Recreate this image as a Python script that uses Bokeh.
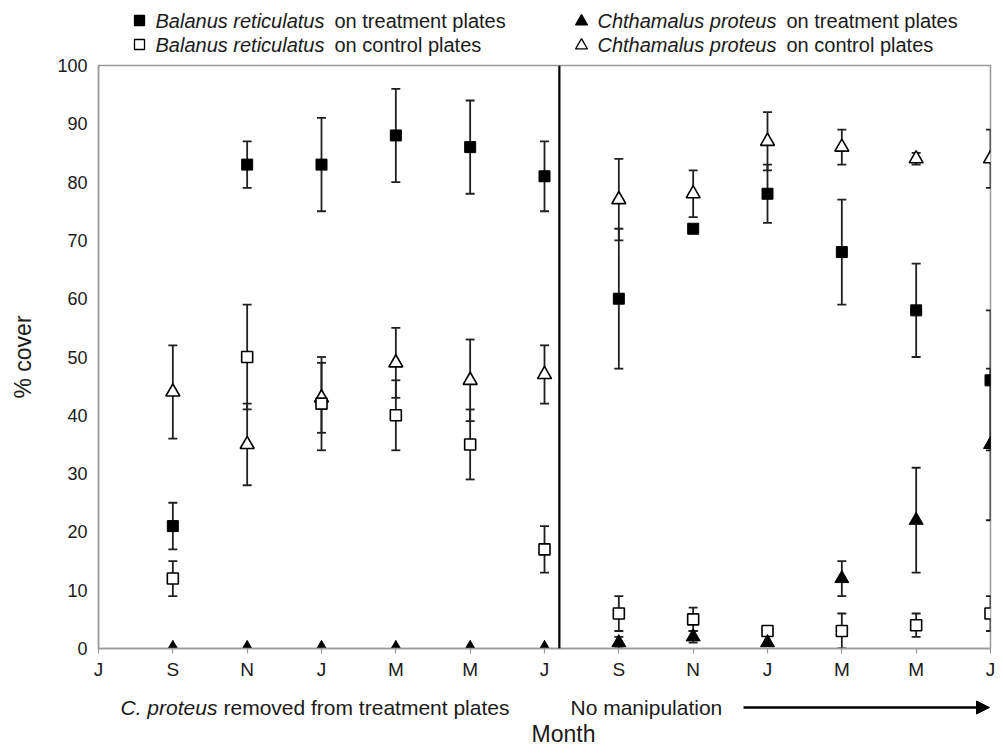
from bokeh.plotting import figure
from bokeh.models import Range1d, FixedTicker, Span, Arrow, NormalHead
from bokeh.layouts import column
from bokeh.core.properties import value
from bokeh.embed import file_html
from bokeh.resources import INLINE

nan = float("nan")

# ---------------- data ----------------
months = ["J", "S", "N", "J", "M", "M", "J", "S", "N", "J", "M", "M", "J"]

br_treat    = [nan, 21, 83, 83, 88, 86, 81, 60, 72, 78, 68, 58, 46]
br_treat_lo = [nan, 17, 79, 75, 80, 78, 75, 48, nan, 73, 59, 50, 34]
br_treat_hi = [nan, 25, 87, 91, 96, 94, 87, 72, nan, 83, 77, 66, 58]

br_ctrl    = [nan, 12, 50, 42, 40, 35, 17, 6, 5, 3, 3, 4, 6]
br_ctrl_lo = [nan, 9, 41, 34, 34, 29, 13, 3, 3, nan, 0, 2, 3]
br_ctrl_hi = [nan, 15, 59, 50, 46, 41, 21, 9, 7, nan, 6, 6, 9]

cp_treat    = [nan, 0, 0, 0, 0, 0, 0, 1, 2, 1, 12, 22, 35]
cp_treat_lo = [nan, nan, nan, nan, nan, nan, nan, 0, 1, nan, 9, 13, 22]
cp_treat_hi = [nan, nan, nan, nan, nan, nan, nan, 2, 3, nan, 15, 31, 48]

cp_ctrl    = [nan, 44, 35, 43, 49, 46, 47, 77, 78, 87, 86, 84, 84]
cp_ctrl_lo = [nan, 36, 28, 37, 43, 39, 42, 70, 74, 82, 83, 83, 79]
cp_ctrl_hi = [nan, 52, 42, 49, 55, 53, 52, 84, 82, 92, 89, 85, 89]

y_ticks = [0, 10, 20, 30, 40, 50, 60, 70, 80, 90, 100]
divider_at = 6.2  # end of the removal period

legend_species = ["Balanus reticulatus", "Balanus reticulatus",
                  "Chthamalus proteus", "Chthamalus proteus"]
legend_rest = ["on treatment plates", "on control plates",
               "on treatment plates", "on control plates"]

x = list(range(len(months)))

FONT = "Liberation Sans"
TXT = "#1a1a1a"
AX = "#9a9a9a"
ERR = "#202020"
W = 995
LEFT = 98
RIGHT = 5


def strip(h):
    s = figure(width=W, height=h, output_backend="svg", toolbar_location=None,
               x_range=Range1d(LEFT, W - RIGHT), y_range=Range1d(h, 0),
               min_border_left=LEFT, min_border_right=RIGHT,
               min_border_top=0, min_border_bottom=0)
    s.axis.visible = False
    s.grid.visible = False
    s.outline_line_color = None
    s.background_fill_color = "white"
    s.border_fill_color = "white"
    return s


def txt(s, x0, y0, t, size="20px", style="normal", align="left"):
    s.text(x=[x0], y=[y0], text=[t], text_font=value(FONT),
           text_font_size=value(size), text_font_style=value(style),
           text_color=TXT, text_baseline="middle", text_align=align)


# ---------------- legend strip (top) ----------------
TOP_H = 56
top = strip(TOP_H)
rows = [20, 44, 20, 44]
mark_x = [139, 139, 581, 581]
name_x = [155, 155, 597, 597]
rest_x = [334, 334, 786, 786]
mk = [("square", "black"), ("square", "white"), ("triangle", "black"), ("triangle", "white")]
for i in range(4):
    m, fc = mk[i]
    top.scatter(x=[mark_x[i]], y=[rows[i] + (1 if m == "triangle" else 0)], marker=m,
                size=10 if m == "square" else 12, fill_color=fc,
                line_color="black", line_width=1.3)
    txt(top, name_x[i], rows[i], legend_species[i], style="italic")
    txt(top, rest_x[i], rows[i], legend_rest[i])

# ---------------- main plot ----------------
MAIN_TOP = 9
MAIN_H = MAIN_TOP + 583 + 40
p = figure(width=W, height=MAIN_H, output_backend="svg", toolbar_location=None,
           x_range=Range1d(0, len(months) - 1), y_range=Range1d(0, 100),
           min_border_left=LEFT, min_border_right=RIGHT, min_border_top=MAIN_TOP,
           min_border_bottom=40)
p.grid.visible = False
p.outline_line_color = AX
p.outline_line_width = 1.5
p.background_fill_color = "white"
p.border_fill_color = "white"

p.xaxis.ticker = FixedTicker(ticks=x)
p.xaxis.major_label_overrides = {i: m for i, m in enumerate(months)}
p.xaxis.major_tick_out = 5
p.xaxis.major_tick_in = 0
p.xaxis.minor_tick_out = 0
p.xaxis.minor_tick_in = 0
p.xaxis.major_label_standoff = 5
p.xaxis.major_label_text_font_size = "19px"

p.yaxis.ticker = FixedTicker(ticks=y_ticks)
p.yaxis.major_tick_out = 0
p.yaxis.major_tick_in = 0
p.yaxis.minor_tick_out = 0
p.yaxis.minor_tick_in = 0
p.yaxis.major_label_standoff = 11
p.yaxis.major_label_text_font_size = "18px"
p.yaxis.axis_label = "% cover"
p.yaxis.axis_label_standoff = 18
p.yaxis.axis_label_text_font_style = "normal"
p.yaxis.axis_label_text_font_size = "23px"
p.yaxis.axis_label_text_font = FONT
p.yaxis.axis_label_text_color = TXT

for ax in (p.xaxis, p.yaxis):
    ax.axis_line_color = AX
    ax.axis_line_width = 1.5
    ax.major_tick_line_color = AX
    ax.major_tick_line_width = 1.2
    ax.major_label_text_font = FONT
    ax.major_label_text_color = TXT

p.add_layout(Span(location=divider_at, dimension="height", line_color="black",
                  line_width=2.2))


def errorbars(lo, hi):
    p.segment(x0=x, y0=lo, x1=x, y1=hi, line_color=ERR, line_width=1.8)
    p.scatter(x=x, y=lo, marker="dash", size=9, line_color=ERR, line_width=1.8)
    p.scatter(x=x, y=hi, marker="dash", size=9, line_color=ERR, line_width=1.8)


errorbars(br_treat_lo, br_treat_hi)
errorbars(br_ctrl_lo, br_ctrl_hi)
errorbars(cp_treat_lo, cp_treat_hi)
errorbars(cp_ctrl_lo, cp_ctrl_hi)

p.scatter(x=x, y=cp_ctrl, marker="triangle", size=14, fill_color="white",
          line_color="black", line_width=1.6)
p.scatter(x=x, y=br_ctrl, marker="square", size=11, fill_color="white",
          line_color="black", line_width=1.6)
p.scatter(x=x, y=br_treat, marker="square", size=11, fill_color="black",
          line_color="black", line_width=1)
p.scatter(x=x, y=cp_treat, marker="triangle", size=14, fill_color="black",
          line_color="black", line_width=1)

# ---------------- annotation strip (bottom) ----------------
BOT_H = 747 - TOP_H - MAIN_H
bot = strip(BOT_H)
ay = 19
txt(bot, 120, ay, "C. proteus", size="21px", style="italic")
txt(bot, 223, ay, "removed from treatment plates", size="21px")
txt(bot, 570, ay, "No manipulation", size="21px")
bot.add_layout(Arrow(x_start=743, y_start=ay, x_end=989, y_end=ay,
                     line_color="black", line_width=2.5,
                     end=NormalHead(size=13, fill_color="black", line_color="black")))
txt(bot, 563, 45, "Month", size="23px", align="center")

layout = column(top, p, bot, spacing=0)
open("out.html", "w").write(file_html(layout, INLINE))
